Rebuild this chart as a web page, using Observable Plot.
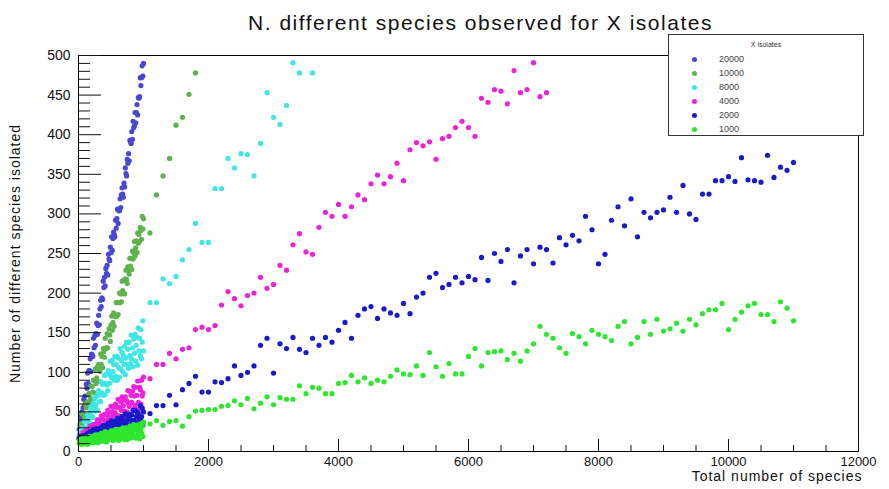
<!DOCTYPE html>
<html>
<head>
<meta charset="utf-8">
<script src="https://cdn.jsdelivr.net/npm/d3@7"></script>
<script src="https://cdn.jsdelivr.net/npm/@observablehq/plot@0.6"></script>
<style>
  body { margin: 0; background: #fff; }
  #wrap { position: relative; width: 889px; height: 489px; font-family: "Liberation Sans", Arial, sans-serif; }
  #legend { position: absolute; left: 668px; top: 34px; width: 196px; height: 102px; border: 1px solid #333; background: #fff; box-sizing: border-box; }
  #legend .ltitle { position: absolute; left: 0; width: 100%; top: 6px; text-align: center; font-size: 7px; color: #333; }
  #legend .lrow { position: absolute; left: 0; height: 10px; width: 100%; }
  #legend .lmark { position: absolute; left: 23px; top: 2.5px; width: 5px; height: 5px; border-radius: 50%; }
  #legend .llab { position: absolute; left: 50px; top: 0; font-size: 9px; line-height: 10px; color: #444; }
</style>
</head>
<body>
<div id="wrap"></div>
<script>
const chartTitle = "N. different species observed for X isolates";
const xTitle = "Total number of species";
const yTitle = "Number of different species isolated";
const legendTitle = "X isolates";

const seriesNames = ["20000", "10000", "8000", "4000", "2000", "1000"];
const seriesColors = ["#4848d4", "#5fb34f", "#3fe6e6", "#ec22dc", "#1a1acc", "#2ee62e"];

const xMajorTicks = [0, 2000, 4000, 6000, 8000, 10000, 12000];
const xMinorTicks = [500, 1000, 1500, 2500, 3000, 3500, 4500, 5000, 5500, 6500, 7000, 7500, 8500, 9000, 9500, 10500, 11000, 11500];
const yMajorTicks = [0, 50, 100, 150, 200, 250, 300, 350, 400, 450, 500];
const yMinorTicks = [10, 20, 30, 40, 60, 70, 80, 90, 110, 120, 130, 140, 160, 170, 180, 190, 210, 220, 230, 240, 260, 270, 280, 290, 310, 320, 330, 340, 360, 370, 380, 390, 410, 420, 430, 440, 460, 470, 480, 490];

// dense part (x up to 1000)
const denseX = [10,20,30,40,50,60,70,80,90,100,110,120,130,140,150,160,170,180,190,200,210,220,230,240,250,260,270,280,290,300,310,320,330,340,350,360,370,380,390,400,410,420,430,440,450,460,470,480,490,500,510,520,530,540,550,560,570,580,590,600,610,620,630,640,650,660,670,680,690,700,710,720,730,740,750,760,770,780,790,800,810,820,830,840,850,860,870,880,890,900,910,920,930,940,950,960,970,980,990,1000];
const dense20000 = [28,22,44,37,50,38,55,66,58,70,63,85,80,99,86,102,102,117,101,123,122,120,143,131,146,134,149,162,148,159,172,160,180,191,183,194,192,215,207,220,209,231,225,235,223,249,243,241,258,251,271,254,269,277,274,271,292,282,294,306,288,304,304,319,308,324,333,325,321,339,334,358,351,348,369,364,376,367,393,391,389,404,394,417,409,411,428,415,428,438,425,447,446,448,472,462,472,487,474,490];
const dense10000 = [18,34,16,35,34,47,31,48,42,60,40,55,62,45,62,73,60,68,83,65,82,75,90,74,90,104,86,93,107,89,110,106,101,123,110,120,106,130,126,119,143,131,130,149,131,148,155,147,139,160,171,153,163,175,158,173,170,188,171,188,173,188,200,188,199,189,215,203,200,216,199,218,229,217,212,233,228,224,244,234,244,230,253,243,251,265,247,257,266,251,276,263,274,265,283,279,268,297,281,294];
const dense8000 = [19,14,26,20,17,30,28,25,38,30,39,27,39,46,35,42,36,50,57,45,54,43,61,55,67,51,58,70,52,71,77,63,72,63,88,74,85,71,85,96,72,86,98,84,77,102,98,86,114,95,93,115,101,110,90,120,95,110,120,90,118,106,94,130,104,115,125,101,121,110,133,97,118,138,110,129,105,138,121,111,147,117,131,107,142,124,148,114,134,144,109,156,127,143,121,154,117,138,165,127];
const dense4000 = [15,19,14,18,20,16,24,19,17,23,26,17,23,27,21,26,21,32,25,30,21,29,34,26,22,35,34,27,40,32,27,40,35,33,45,30,41,29,40,47,34,38,47,31,52,44,39,50,35,57,38,50,45,56,36,49,60,46,56,41,66,45,56,39,63,52,69,44,58,65,51,69,44,64,50,77,61,57,76,46,71,62,76,53,82,70,58,81,53,71,89,62,53,81,78,60,90,70,74,94];
const dense2000 = [16,14,19,16,18,13,17,20,16,18,15,21,18,23,17,21,20,25,15,23,21,19,28,20,26,19,24,29,20,23,28,18,26,30,23,26,22,33,25,30,21,33,27,31,20,36,29,25,35,27,39,24,32,36,31,26,39,28,35,42,24,35,32,41,28,39,44,34,27,39,31,48,37,29,45,34,41,26,47,40,34,46,32,52,39,38,52,33,44,50,30,48,41,36,58,39,44,55,33,50];
const dense1000 = [10,14,12,16,9,13,17,12,15,10,18,11,15,9,17,13,19,11,15,18,13,19,11,17,12,21,16,14,21,11,19,16,21,13,23,19,14,22,13,19,25,16,12,22,21,15,24,18,19,26,17,26,14,22,25,16,28,20,15,24,28,14,21,27,18,24,16,30,21,27,15,24,30,20,15,29,26,18,32,23,17,30,24,22,34,18,29,17,27,33,21,24,32,16,35,27,23,32,19,37];

// sparse part (x above 1000)
const sparseX = [1100,1200,1300,1400,1500,1600,1700,1800,1900,2000,2100,2200,2300,2400,2500,2600,2700,2800,2900,3000,3100,3200,3300,3400,3500,3600,3700,3800,3900,4000,4100,4200,4300,4400,4500,4600,4700,4800,4900,5000,5100,5200,5300,5400,5500,5600,5700,5800,5900,6000,6100,6200,6300,6400,6500,6600,6700,6800,6900,7000,7100,7200,7300,7400,7500,7600,7700,7800,7900,8000,8100,8200,8300,8400,8500,8600,8700,8800,8900,9000,9100,9200,9300,9400,9500,9600,9700,9800,9900,10000,10100,10200,10300,10400,10500,10600,10700,10800,10900,11000];
const sparse10000X = [1100,1200,1300,1400,1500,1600,1700,1800];
const sparse10000 = [276,324,348,370,412,422,451,478];
const sparse8000X = [1100,1200,1300,1400,1500,1600,1700,1800,1900,2000,2100,2200,2300,2400,2500,2600,2700,2800,2900,3000,3100,3200,3300,3400,3600];
const sparse8000 = [188,188,218,212,221,242,255,288,264,264,332,332,370,358,376,375,348,389,453,422,413,437,491,478,478];
const sparse4000X = [1100,1200,1300,1400,1500,1600,1700,1800,1900,2000,2100,2200,2300,2400,2500,2600,2700,2800,2900,3000,3100,3200,3300,3400,3500,3600,3700,3800,3900,4000,4100,4200,4300,4400,4500,4600,4700,4800,4900,5000,5100,5200,5300,5400,5500,5600,5700,5800,5900,6000,6100,6200,6300,6400,6500,6600,6700,6800,6900,7000,7100,7200];
const sparse4000 = [92,110,110,124,117,129,131,154,157,154,159,185,202,193,184,197,200,220,206,211,235,229,261,275,252,249,283,302,297,312,297,309,324,318,338,349,338,347,364,342,381,390,386,391,369,395,398,409,417,409,398,446,441,457,455,439,481,453,457,491,448,453];
const sparse2000 = [48,58,58,71,59,78,86,95,75,75,88,87,92,108,96,100,108,134,143,99,136,130,144,129,125,143,134,144,138,153,163,143,172,180,183,168,180,175,172,187,174,195,200,220,225,207,211,220,213,221,217,245,216,250,240,255,213,247,255,237,258,255,238,270,261,273,266,297,280,237,249,292,309,285,319,271,302,295,302,305,321,302,336,300,293,325,325,342,342,347,341,371,343,342,340,374,346,359,355,365];
const sparse1000 = [35,39,33,38,39,32,44,51,52,53,53,57,58,64,59,67,54,61,69,59,68,66,66,83,73,81,80,73,73,86,87,96,88,93,86,90,88,95,103,98,97,108,96,125,107,95,111,98,98,120,130,108,125,126,127,116,124,114,127,136,158,148,143,131,124,149,145,136,153,148,145,140,158,164,136,144,164,148,167,152,155,162,152,167,160,174,179,179,187,154,167,176,184,187,173,173,164,189,181,165];

const rows = [];
function addSeries(name, xs, ys) {
  xs.forEach((x, i) => rows.push({ series: name, x: x, y: ys[i] }));
}
addSeries("20000", denseX, dense20000);
addSeries("10000", denseX, dense10000);
addSeries("10000", sparse10000X, sparse10000);
addSeries("8000", denseX, dense8000);
addSeries("8000", sparse8000X, sparse8000);
addSeries("4000", denseX, dense4000);
addSeries("4000", sparse4000X, sparse4000);
addSeries("2000", denseX, dense2000);
addSeries("2000", sparseX, sparse2000);
addSeries("1000", denseX, dense1000);
addSeries("1000", sparseX, sparse1000);

const FONT = '"Liberation Sans", Arial, sans-serif';

const chart = Plot.plot({
  width: 889,
  height: 489,
  marginLeft: 78,
  marginRight: 31,
  marginTop: 55,
  marginBottom: 38,
  style: { fontFamily: FONT, fontSize: "13px", color: "#111", background: "#fff", overflow: "visible" },
  x: { domain: [0, 12000], label: null },
  y: { domain: [0, 500], label: null },
  color: { domain: seriesNames, range: seriesColors },
  marks: [
    Plot.dot(rows, { x: "x", y: "y", fill: "series", r: 2.6 }),
    Plot.frame({ stroke: "#000", strokeWidth: 1 }),
    Plot.axisX(xMinorTicks, { tickSize: -6, tickFormat: () => "", label: null }),
    Plot.axisX(xMajorTicks, { tickSize: -12, tickFormat: () => "", label: null }),
    Plot.axisX(xMajorTicks, { tickSize: 0, tickPadding: 5, tickFormat: d => String(d), label: null, fontSize: 13 }),
    Plot.axisY(yMinorTicks, { tickSize: -12, tickFormat: () => "", label: null }),
    Plot.axisY(yMajorTicks, { tickSize: -23, tickFormat: () => "", label: null }),
    Plot.axisY(yMajorTicks, { tickSize: 0, tickPadding: 8, tickFormat: d => String(d), label: null, fontSize: 14 }),
    Plot.text([chartTitle], { text: d => d, frameAnchor: "top", dy: -40, dx: 12, fontSize: 21 }),
    Plot.text([yTitle], { text: d => d, frameAnchor: "left", dx: -63, rotate: -90, textAnchor: "middle", fontSize: 14 }),
    Plot.text([xTitle], { text: d => d, frameAnchor: "bottom-right", dy: 29, dx: 4, textAnchor: "end", fontSize: 14 })
  ]
});
document.getElementById("wrap").appendChild(chart);

// letter spacing to mimic the wide rendering of the original titles
d3.select(chart).selectAll("text").each(function () {
  const t = this.textContent;
  if (t === chartTitle) d3.select(this).style("letter-spacing", "1.5px");
  if (t === xTitle || t === yTitle) d3.select(this).style("letter-spacing", "1px");
});

const legend = d3.select("#wrap").append("div").attr("id", "legend");
legend.append("div").attr("class", "ltitle").text(legendTitle);
seriesNames.forEach((n, i) => {
  const row = legend.append("div").attr("class", "lrow").style("top", (19 + i * 14) + "px");
  row.append("span").attr("class", "lmark").style("background", seriesColors[i]);
  row.append("span").attr("class", "llab").text(n);
});
</script>
</body>
</html>
